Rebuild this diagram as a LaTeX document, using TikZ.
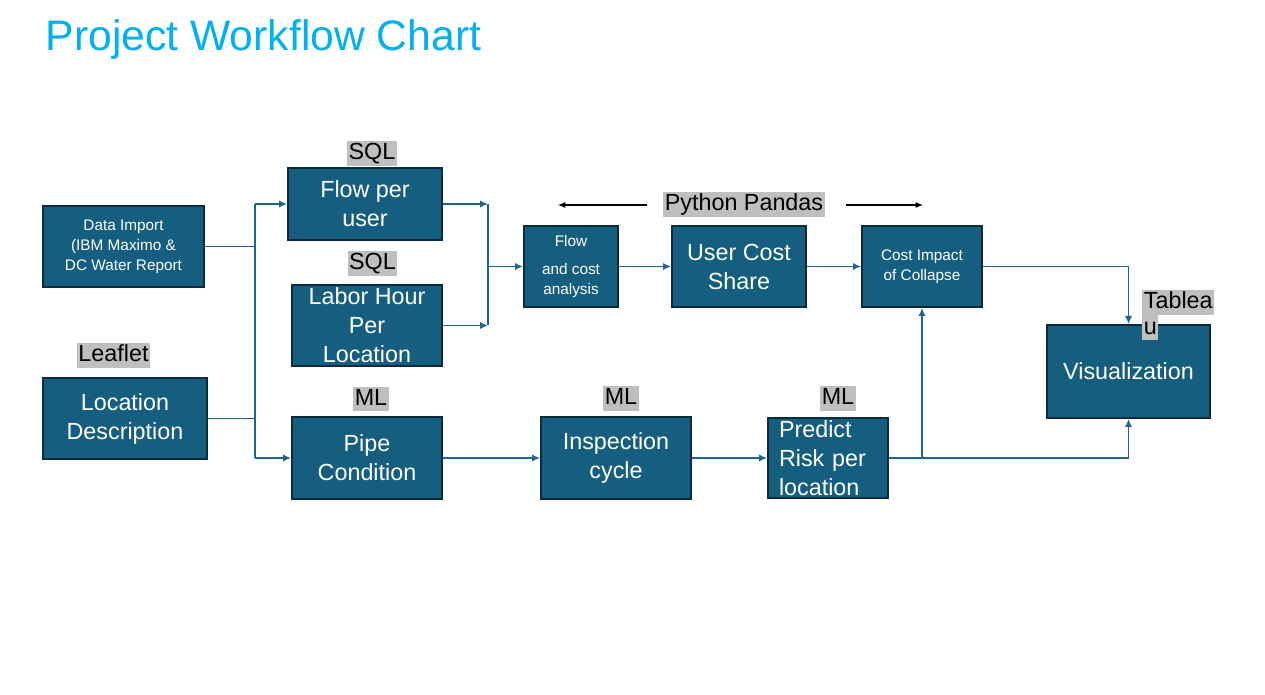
\documentclass[tikz,border=0pt]{standalone}
\usepackage{fontspec}
\setmainfont{Liberation Sans}
\usepackage{xcolor}
\usetikzlibrary{arrows.meta, positioning}

\definecolor{boxfill}{HTML}{155E80}
\definecolor{boxline}{HTML}{0C2B3E}
\definecolor{wirecol}{HTML}{1F6490}
\definecolor{tagfill}{HTML}{BFBFBF}
\definecolor{titlecol}{HTML}{00B0F0}

\newcommand{\bigtxt}{\fontsize{17.5}{21.75}\selectfont}
\newcommand{\smalltxt}{\fontsize{11.5}{15}\selectfont}

\begin{document}
\begin{tikzpicture}[
    x=0.75pt, y=-0.75pt,
    box/.style 2 args={rectangle, draw=boxline, line width=1.5pt, fill=boxfill, text=white, inner sep=0pt, minimum width=#1*0.75pt, minimum height=#2*0.75pt, align=center, font=\bigtxt},
    tag/.style={rectangle, fill=tagfill, text=black, font=\bigtxt, inner xsep=1.2pt, inner ysep=0pt, text height=14pt, text depth=4.5pt},
    wire/.style={draw=wirecol, line width=1.4pt},
    conn/.style={wire, -{Latex[length=6pt, width=5.5pt]}},
    pyarr/.style={black, line width=0.8pt, -{Latex[length=5.5pt, width=4.5pt]}}
]
\useasboundingbox (0,0) rectangle (1265,695);

\node[anchor=base west, inner sep=0pt, text=titlecol, font=\fontsize{32}{38}\selectfont] (title) at (45.5,51) {Project Workflow Chart};

% inputs
\node[box={161}{81}, font=\smalltxt] (dataimp) at (123.5,246.5) {Data Import\\(IBM Maximo \&\\DC Water Report};
\node[box={164}{81}] (locdesc) at (125,418.5) {Location\\Description};

% sql steps
\node[box={154}{72}] (flowuser) at (365,204) {Flow per\\user};
\node[box={150}{81}] (labor) at (367,325.5) {Labor Hour\\Per\\Location};

% ml steps
\node[box={150}{82}] (pipe) at (367,458) {Pipe\\Condition};
\node[box={150}{82}] (inspect) at (616,458) {Inspection\\cycle};
\node[box={120}{80}, align=left, inner xsep=8.25pt, text width=73.5pt] (predict) at (828,458) {Predict\\Risk per\\location};

% pandas steps
\node[box={94}{81}, font=\smalltxt] (flowcost) at (571,266.5) {Flow\\[6pt]and cost\\analysis};
\node[box={134}{81}] (usercost) at (739,266.5) {User Cost\\Share};
\node[box={120}{81}, font=\smalltxt] (costimp) at (922,266.5) {Cost Impact\\of Collapse};

\node[box={163}{93}] (visual) at (1128.5,371.5) {Visualization};

% tool tags
\node[tag] (sqlA) at (372,153.5) {SQL};
\node[tag] (sqlB) at (372.5,263.5) {SQL};
\node[tag] (leaflet) at (113.5,355.5) {Leaflet};
\node[tag] (mlA) at (371,399) {ML};
\node[tag] (mlB) at (621,398.5) {ML};
\node[tag] (mlC) at (838,398.5) {ML};
\node[tag] (pandas) at (744,204.5) {Python Pandas};
\node[tag, anchor=north west] (tableauA) at (1142,290) {Tablea};
\node[tag, anchor=north west] (tableauB) at (tableauA.south west) {u};

\coordinate (pyLe) at (558,205);
\coordinate (pyRe) at (923,205);
\draw[pyarr] ([xshift=-12pt]pandas.west |- pyLe) -- (pyLe);
\draw[pyarr] ([xshift=15.75pt]pandas.east |- pyRe) -- (pyRe);

% connectors
\coordinate (busTop) at (255,204);
\coordinate (busBot) at (255,458);
\draw[wire] (dataimp.east) -- (dataimp.east -| busTop);
\draw[wire] (locdesc.east) -- (locdesc.east -| busTop);
\draw[wire] (busTop) -- (busBot);
\draw[conn] (busTop) -- (flowuser.west);
\draw[conn] (busBot) -- (pipe.west);

\coordinate (joinTop) at (488,204);
\coordinate (joinBot) at (488,325.5);
\draw[conn] (flowuser.east) -- (joinTop);
\draw[conn] (labor.east) -- (joinBot);
\draw[wire] (joinTop) -- (joinBot);
\draw[conn] (flowcost.west -| joinTop) -- (flowcost.west);

\draw[conn] (flowcost) -- (usercost);
\draw[conn] (usercost) -- (costimp);
\draw[conn] (pipe) -- (inspect);
\draw[conn] (inspect) -- (predict);

\draw[conn] (costimp.east) -| (visual.north);
\draw[conn] (predict.east) -| (costimp.south);
\draw[conn] (predict.east) -| (visual.south);

\end{tikzpicture}
\end{document}
